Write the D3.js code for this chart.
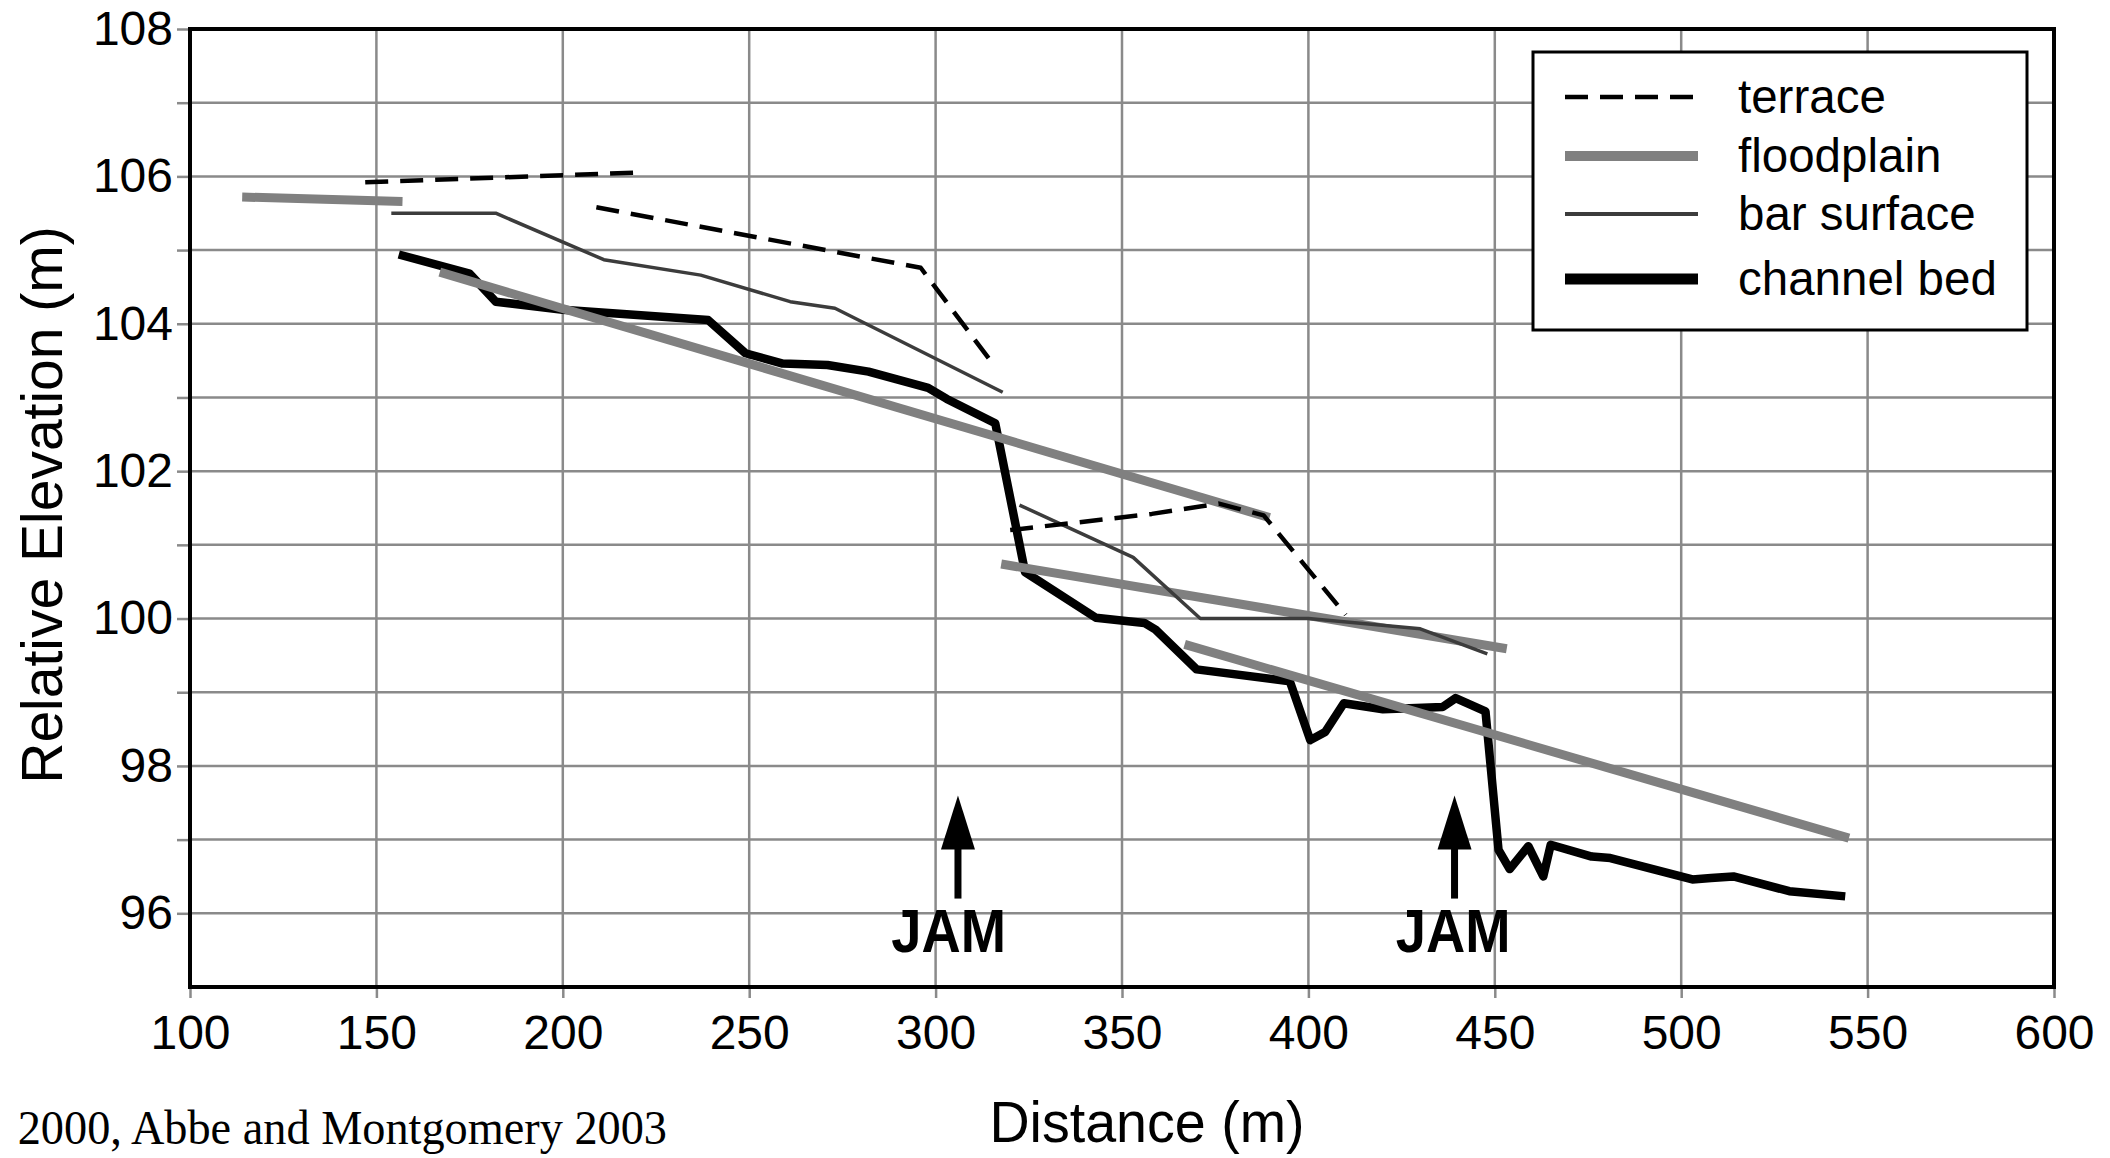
<!DOCTYPE html>
<html><head><meta charset="utf-8">
<script src="https://cdn.jsdelivr.net/npm/d3@7"></script>
<style>body{margin:0;background:#fff} svg{display:block}</style>
</head><body>
<svg id="c" width="2110" height="1158"></svg>
<script>
// ---------- data (distance m, relative elevation m) ----------
const terrace1 = [[147,105.92],[219,106.05]];
const terrace2 = [[209,105.58],[296,104.76],[315,103.48]];
const terrace3 = [[320,101.2],[358,101.42],[376,101.56],[388,101.4],[410,100.05]];

const floodplain1 = [[114,105.72],[157,105.66]];
const floodplain2 = [[167,104.7],[389.6,101.37]];
const floodplain3 = [[317.6,100.74],[453.2,99.59]];
const floodplain4 = [[366.8,99.65],[545,97.02]];

const barSurface1 = [[154,105.5],[182,105.5],[211,104.87],[237,104.66],[261,104.3],[273,104.21],[318,103.07]];
const barSurface2 = [[322.5,101.54],[353,100.83],[371,100.0],[400,100.0],[430,99.86],[448,99.52]];

const channelBed = [[156,104.94],[175,104.68],[182,104.30],[200,104.19],[239,104.05],[249,103.6],[259,103.46],
  [271,103.44],[282,103.35],[298,103.13],[303,102.98],[316,102.65],[324,100.63],[343,100.01],[356,99.94],
  [359,99.85],[370,99.31],[395,99.15],[400.5,98.35],[404.5,98.46],[409.5,98.85],[420,98.77],[436,98.8],
  [439.5,98.92],[447.5,98.74],[451,96.86],[454,96.6],[459,96.91],[463,96.5],[465,96.93],[476,96.77],
  [481,96.75],[503,96.46],[508,96.48],[514,96.5],[529,96.3],[544,96.23]];

const jamArrowX = [306, 439.2];
const jamArrowTip = 97.6, jamArrowBase = 96.2;
const jamLabelX = [303.5, 438.8];
const jamLabelY = 95.47;
const jamLabel = "JAM";

const xTicks = [100,150,200,250,300,350,400,450,500,550,600];
const yTicks = [96,97,98,99,100,101,102,103,104,105,106,107,108];
const xDomain = [100,600], yDomain = [95,108];

const legendItems = ["terrace","floodplain","bar surface","channel bed"];
const xTitle = "Distance (m)", yTitle = "Relative Elevation (m)";
const citation = "2000, Abbe and Montgomery 2003";

// ---------- layout ----------
const L=190, R=2054, T=29, B=987;
const svg = d3.select("#c");
const x = d3.scaleLinear().domain(xDomain).range([L,R]);
const y = d3.scaleLinear().domain(yDomain).range([B,T]);
const SANS = "Arial, 'Liberation Sans', sans-serif";
const gridCol = "#8a8a8a";

// grid
const grid = svg.append("g");
grid.selectAll("line.gx").data(xTicks.filter(d=>d>xDomain[0]&&d<xDomain[1])).enter().append("line")
  .attr("x1",d=>x(d)).attr("x2",d=>x(d)).attr("y1",T).attr("y2",B)
  .attr("stroke",gridCol).attr("stroke-width",2.5);
grid.selectAll("line.gy").data(yTicks.filter(d=>d>yDomain[0]&&d<yDomain[1])).enter().append("line")
  .attr("x1",L).attr("x2",R).attr("y1",d=>y(d)).attr("y2",d=>y(d))
  .attr("stroke",gridCol).attr("stroke-width",2.5);

// axes
const xAxis = svg.append("g").attr("transform",`translate(0,${B})`)
  .call(d3.axisBottom(x).tickValues(xTicks).tickSize(11).tickPadding(17).tickSizeOuter(0));
const yAxis = svg.append("g").attr("transform",`translate(${L},0)`)
  .call(d3.axisLeft(y).tickValues(yTicks).tickSize(13).tickPadding(4).tickSizeOuter(0)
    .tickFormat(d=> d%2===0 ? d : ""));
[xAxis,yAxis].forEach(a=>{
  a.select(".domain").remove();
  a.selectAll(".tick line").attr("stroke",gridCol).attr("stroke-width",2.5);
  a.selectAll(".tick text").attr("fill","#000").style("font-family",SANS).style("font-size","48px");
});

// lines
const line = d3.line().x(d=>x(d[0])).y(d=>y(d[1]));
const plot = svg.append("g").attr("fill","none").attr("stroke-linejoin","round");
plot.append("path").datum(channelBed).attr("d",line).attr("stroke","#000").attr("stroke-width",8.5);
[floodplain1,floodplain2,floodplain3,floodplain4].forEach(s=>
  plot.append("path").datum(s).attr("d",line).attr("stroke","#808080").attr("stroke-width",9).attr("stroke-linecap","butt"));
[barSurface1,barSurface2].forEach(s=>
  plot.append("path").datum(s).attr("d",line).attr("stroke","#3c3c3c").attr("stroke-width",3.5));
[terrace1,terrace2,terrace3].forEach(s=>
  plot.append("path").datum(s).attr("d",line).attr("stroke","#000").attr("stroke-width",4.5).attr("stroke-dasharray","23 12"));

// frame
svg.append("rect").attr("x",L).attr("y",T).attr("width",R-L).attr("height",B-T)
  .attr("fill","none").attr("stroke","#000").attr("stroke-width",4);

// JAM arrows
const jam = svg.append("g");
jamArrowX.forEach((d,i)=>{
  const px = x(d), tip = y(jamArrowTip), base = y(jamArrowBase);
  jam.append("line").attr("x1",px).attr("x2",px).attr("y1",tip+40).attr("y2",base)
    .attr("stroke","#000").attr("stroke-width",7);
  jam.append("path").attr("d",`M${px},${tip} L${px-17},${tip+54} L${px+17},${tip+54} Z`).attr("fill","#000");
  jam.append("text").attr("transform",`translate(${x(jamLabelX[i])},${y(jamLabelY)}) scale(0.97,1.08)`).attr("text-anchor","middle")
    .style("font-family",SANS).style("font-weight","bold").style("font-size","56px").text(jamLabel);
});

// legend
const lg = svg.append("g");
lg.append("rect").attr("x",1533).attr("y",52).attr("width",494).attr("height",278)
  .attr("fill","#fff").attr("stroke","#000").attr("stroke-width",3);
const rowY = [97,156,214,279];
const lstyle = [
  {c:"#000",w:4.5,dash:"23 12"},{c:"#808080",w:10,dash:null},{c:"#3c3c3c",w:4,dash:null},{c:"#000",w:11,dash:null}];
legendItems.forEach((t,i)=>{
  const s = lstyle[i];
  const l = lg.append("line").attr("x1",1565).attr("x2",1698).attr("y1",rowY[i]).attr("y2",rowY[i])
    .attr("stroke",s.c).attr("stroke-width",s.w);
  if (s.dash) l.attr("stroke-dasharray",s.dash);
  lg.append("text").attr("transform",`translate(1738,${rowY[i]+16})`)
    .style("font-family",SANS).style("font-size","47.5px").text(t);
});

// titles
svg.append("text").attr("transform","translate(62,505) rotate(-90)").attr("text-anchor","middle")
  .style("font-family",SANS).style("font-size","57px").text(yTitle);
svg.append("text").attr("transform","translate(1147,1142) scale(1.03,1.05)").attr("text-anchor","middle")
  .style("font-family",SANS).style("font-size","54px").text(xTitle);
svg.append("text").attr("transform","translate(667,1144) scale(0.985,1.03)").attr("text-anchor","end")
  .style("font-family","'Times New Roman', 'Liberation Serif', serif").style("font-size","47px").text(citation);
</script>
</body></html>
